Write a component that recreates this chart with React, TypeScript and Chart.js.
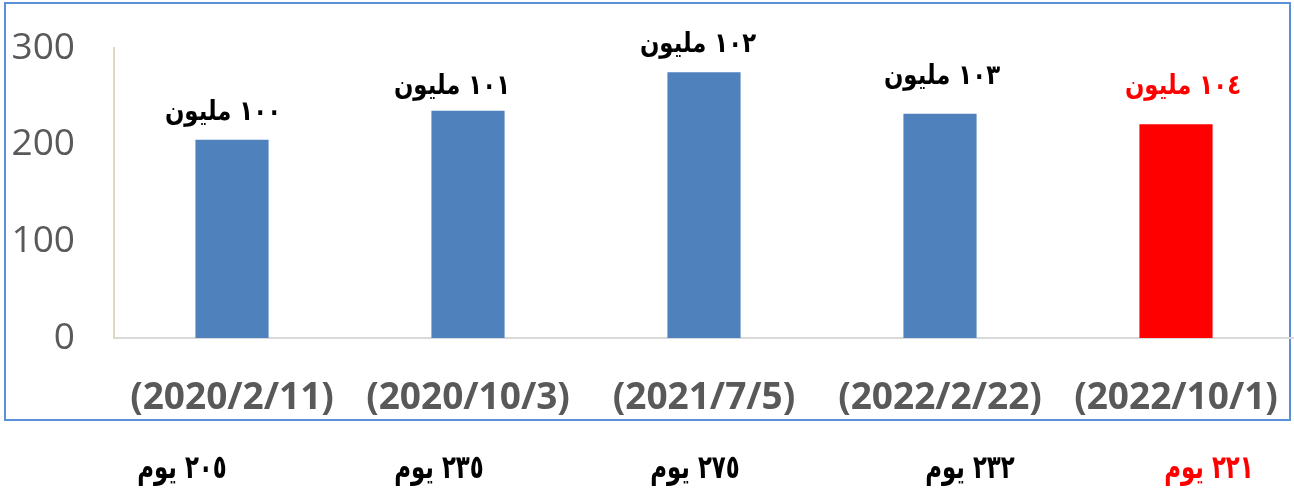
import React, { useEffect, useRef } from "react";
import { Chart, registerables } from "chart.js";

Chart.register(...registerables);

// ---- data ----
const dateLabels = ["(2020/2/11)", "(2020/10/3)", "(2021/7/5)", "(2022/2/22)", "(2022/10/1)"];
const dayCounts = [205, 235, 275, 232, 221];
const valueLabels = ["١٠٠ مليون", "١٠١ مليون", "١٠٢ مليون", "١٠٣ مليون", "١٠٤ مليون"];
const dayLabels = ["٢٠٥ يوم", "٢٣٥ يوم", "٢٧٥ يوم", "٢٣٢ يوم", "٢٢١ يوم"];
const yTicks = [0, 100, 200, 300];
const highlightIndex = 4;

// ---- styles / positions ----
const BLUE = "#4F81BD";
const RED = "#FF0000";
const ARABIC_FONT = "bold 24px 'DejaVu Sans'";
const DAY_FONT = "bold 26px 'DejaVu Sans'";
const dayLabelCenters = [182, 439, 695, 970, 1209];
const labelDx = [-9, -16, -6, 2, 7];
const labelDy = [-27, -24, -27, -37, -38];

function drawStretched(ctx: any, text: string, x: number, y: number, sx: number, sy: number) {
  ctx.save();
  ctx.translate(x, y);
  ctx.scale(sx, sy);
  ctx.fillText(text, 0, 0);
  ctx.restore();
}

export default function App() {
  const ref = useRef<HTMLCanvasElement | null>(null);

  useEffect(() => {
    document.body.style.margin = "0";
    const canvas = ref.current!;
    const overlay = {
      id: "overlay",
      beforeDraw(chart: any) {
        const ctx = chart.ctx;
        ctx.save();
        ctx.fillStyle = "#ffffff";
        ctx.fillRect(0, 0, chart.width, chart.height);
        ctx.strokeStyle = "#5B8FD6";
        ctx.lineWidth = 2;
        ctx.strokeRect(5, 3, 1285, 417);
        ctx.restore();
      },
      afterDatasetsDraw(chart: any) {
        const ctx = chart.ctx;
        const meta = chart.getDatasetMeta(0);
        ctx.save();
        ctx.direction = "rtl";
        ctx.textAlign = "center";
        ctx.textBaseline = "middle";
        ctx.font = ARABIC_FONT;
        meta.data.forEach((bar: any, i: number) => {
          ctx.fillStyle = i === highlightIndex ? RED : "#000000";
          drawStretched(ctx, valueLabels[i], bar.x + labelDx[i], bar.y + labelDy[i], 0.95, 1.15);
        });
        ctx.font = DAY_FONT;
        dayLabels.forEach((t, i) => {
          ctx.fillStyle = i === highlightIndex ? RED : "#000000";
          drawStretched(ctx, t, dayLabelCenters[i], 470, 0.88, 1.25);
        });
        ctx.restore();
      },
    };

    const chart = new Chart(canvas, {
      type: "bar",
      data: {
        labels: dateLabels,
        datasets: [
          {
            data: dayCounts,
            backgroundColor: dayCounts.map((_, i) => (i === highlightIndex ? RED : BLUE)),
            barPercentage: 0.31,
            categoryPercentage: 1,
          },
        ],
      },
      options: {
        responsive: false,
        animation: false,
        layout: { padding: { left: 10, top: 48, right: 0, bottom: 73 } },
        plugins: { legend: { display: false }, tooltip: { enabled: false } },
        scales: {
          x: {
            grid: { display: false, drawTicks: false },
            border: { display: true, color: "#D9D9D9", width: 2 },
            ticks: {
              autoSkip: false,
              maxRotation: 0,
              minRotation: 0,
              padding: 38,
              color: "#595959",
              font: { family: "'Open Sans'", size: 37, weight: "bold" },
            },
            afterFit: (s: any) => {
              s.height = 82;
              s.paddingLeft = 0;
              s.paddingRight = 0;
            },
          },
          y: {
            min: 0,
            max: 300,
            afterBuildTicks: (s: any) => {
              s.ticks = yTicks.map((v) => ({ value: v }));
            },
            grid: { display: false, drawTicks: false },
            border: { display: true, color: "#DDD9C3", width: 2 },
            ticks: {
              padding: 39,
              color: "#595959",
              font: { family: "'Open Sans'", size: 37 },
            },
            afterFit: (s: any) => {
              s.width = 104;
              s.paddingTop = 0;
              s.paddingBottom = 0;
            },
          },
        },
      },
      plugins: [overlay],
    });
    return () => chart.destroy();
  }, []);

  return (
    <div style={{ position: "fixed", left: 0, top: 0, width: 1294, height: 493 }}>
      <canvas ref={ref} width={1294} height={493} />
    </div>
  );
}
